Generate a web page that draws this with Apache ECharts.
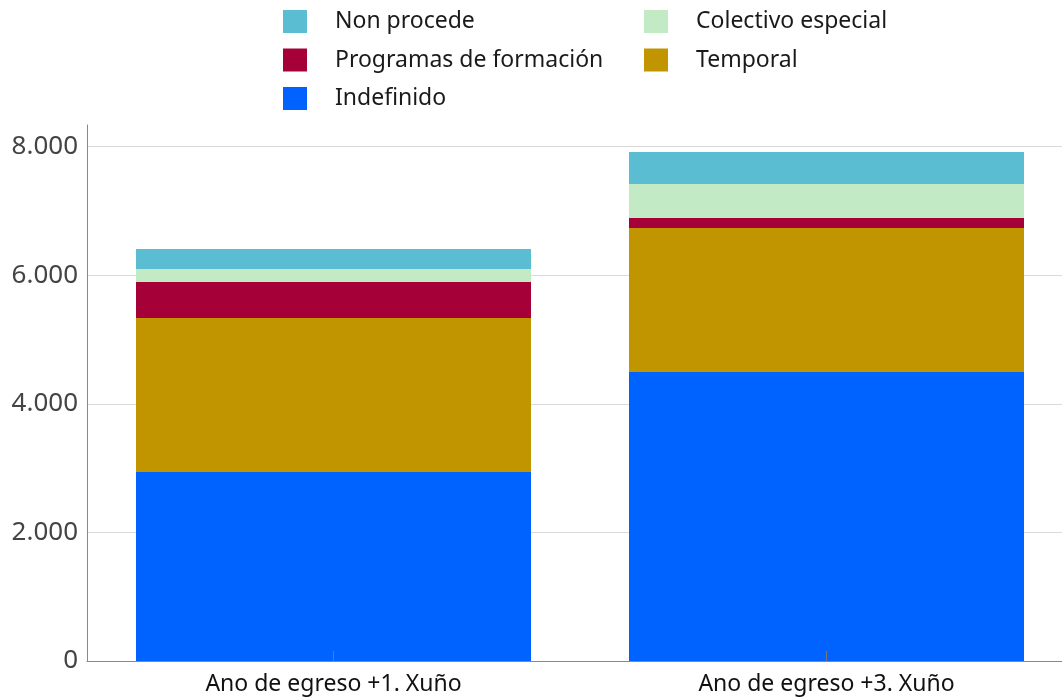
<!DOCTYPE html>
<html><head><meta charset="utf-8">
<script src="https://cdn.jsdelivr.net/npm/echarts@6/dist/echarts.min.js"></script>
<style>html,body{margin:0;padding:0;background:#fff;overflow:hidden}#c{width:1076px;height:698px}</style>
</head><body><div id="c"></div>
<script>
const categories = ['Ano de egreso +1. Xuño', 'Ano de egreso +3. Xuño'];
const indefinido = [2940, 4495];
const temporal = [2395, 2240];
const programas = [560, 155];
const colectivo = [202, 529];
const nonProcede = [311, 498];
const yTicks = [0, 2000, 4000, 6000, 8000];

const FONT = '"Noto Sans", sans-serif';
const chart = echarts.init(document.getElementById('c'), null, {renderer: 'canvas'});
function mk(name, data, color) {
  return {name, type: 'bar', stack: 'total', data, barWidth: 395, itemStyle: {color}};
}
const legendCommon = {
  orient: 'vertical', itemWidth: 24, itemHeight: 23, itemGap: 15.5, icon: 'rect', padding: 0,
  textStyle: {fontFamily: FONT, fontSize: 23, color: '#1a1a1a', padding: [0, 0, 0, 23]}
};
chart.setOption({
  animation: false,
  legend: [
    Object.assign({}, legendCommon, {left: 283, top: 10, data: ['Non procede', 'Programas de formación', 'Indefinido']}),
    Object.assign({}, legendCommon, {left: 644, top: 10, data: ['Colectivo especial', 'Temporal']})
  ],
  grid: {left: 87, top: 125, width: 986, height: 536, containLabel: false},
  xAxis: {
    type: 'category', data: categories, z: 5,
    axisLine: {lineStyle: {color: '#888', width: 1}},
    axisTick: {show: true, inside: true, alignWithLabel: true, length: 10, lineStyle: {color: '#777'}},
    axisLabel: {fontFamily: FONT, fontSize: 23, color: '#111', margin: 12}
  },
  yAxis: {
    type: 'value', min: 0, max: 8337, interval: 2000,
    axisLine: {show: true, lineStyle: {color: '#888', width: 1}},
    axisTick: {show: false},
    splitLine: {show: true, showMaxLine: false, lineStyle: {color: '#d9d9d9', width: 1}},
    axisLabel: {
      fontFamily: FONT, fontSize: 26, color: '#444', margin: 9, showMaxLabel: false,
      formatter: v => yTicks.includes(v) ? v.toString().replace(/\B(?=(\d{3})+(?!\d))/g, '.') : ''
    }
  },
  series: [
    mk('Indefinido', indefinido, '#0062FF'),
    mk('Temporal', temporal, '#C09500'),
    mk('Programas de formación', programas, '#A50038'),
    mk('Colectivo especial', colectivo, '#C1EAC5'),
    mk('Non procede', nonProcede, '#5BBDD2')
  ]
});
</script></body></html>
